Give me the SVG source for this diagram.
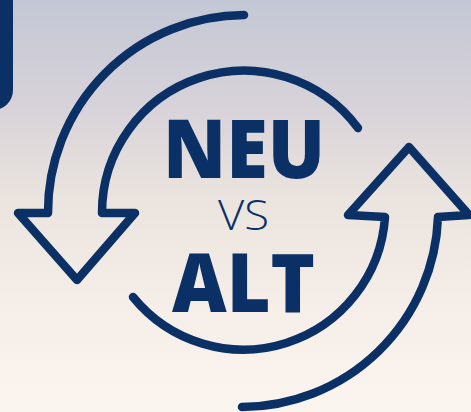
<svg xmlns="http://www.w3.org/2000/svg" width="471" height="412" viewBox="0 0 471 412">
  <defs>
    <linearGradient id="bg" x1="0" y1="0" x2="0" y2="1">
      <stop offset="0" stop-color="#c3c7d5"/>
      <stop offset="0.25" stop-color="#d7d2d9"/>
      <stop offset="0.5" stop-color="#ece5df"/>
      <stop offset="0.75" stop-color="#f6eee8"/>
      <stop offset="1" stop-color="#fbf5f0"/>
    </linearGradient>
    <style>
      .ln { fill: none; stroke: #0a3066; stroke-width: 8.5; stroke-linecap: round; stroke-linejoin: round; }
      .big { font-family: "Open Sans", "Liberation Sans", sans-serif; font-weight: 800; font-size: 81px; fill: #0a3066; }
      .small { font-family: "Open Sans", "Liberation Sans", sans-serif; font-weight: 300; font-size: 43px; fill: #0a3066; }
    </style>
  </defs>
  <rect width="471" height="412" fill="url(#bg)"/>
  <rect x="-30" y="-20" width="43" height="130" rx="20" fill="#0a3066"/>
  <g id="connectors">
    <path id="arrow-top" class="ln" d="M 244 15 A 197 197 0 0 0 48 213 L 18 213 L 77 280 L 135 213 L 102 213 A 142 142 0 0 1 358 128"/>
    <path id="arrow-bottom" class="ln" d="M 242 407 A 197 197 0 0 0 438 217 L 469 215 L 409 147 L 348 215 L 385 217 A 142 142 0 0 1 133 297"/>
  </g>
  <g id="neu"><text class="big" x="244" y="178" text-anchor="middle" textLength="162" lengthAdjust="spacingAndGlyphs">NEU</text></g>
  <g id="vs"><text class="small" x="243.5" y="230" text-anchor="middle" textLength="51" lengthAdjust="spacingAndGlyphs">VS</text></g>
  <g id="alt"><text class="big" x="243.5" y="312" text-anchor="middle" textLength="143" lengthAdjust="spacingAndGlyphs">ALT</text></g>
</svg>
